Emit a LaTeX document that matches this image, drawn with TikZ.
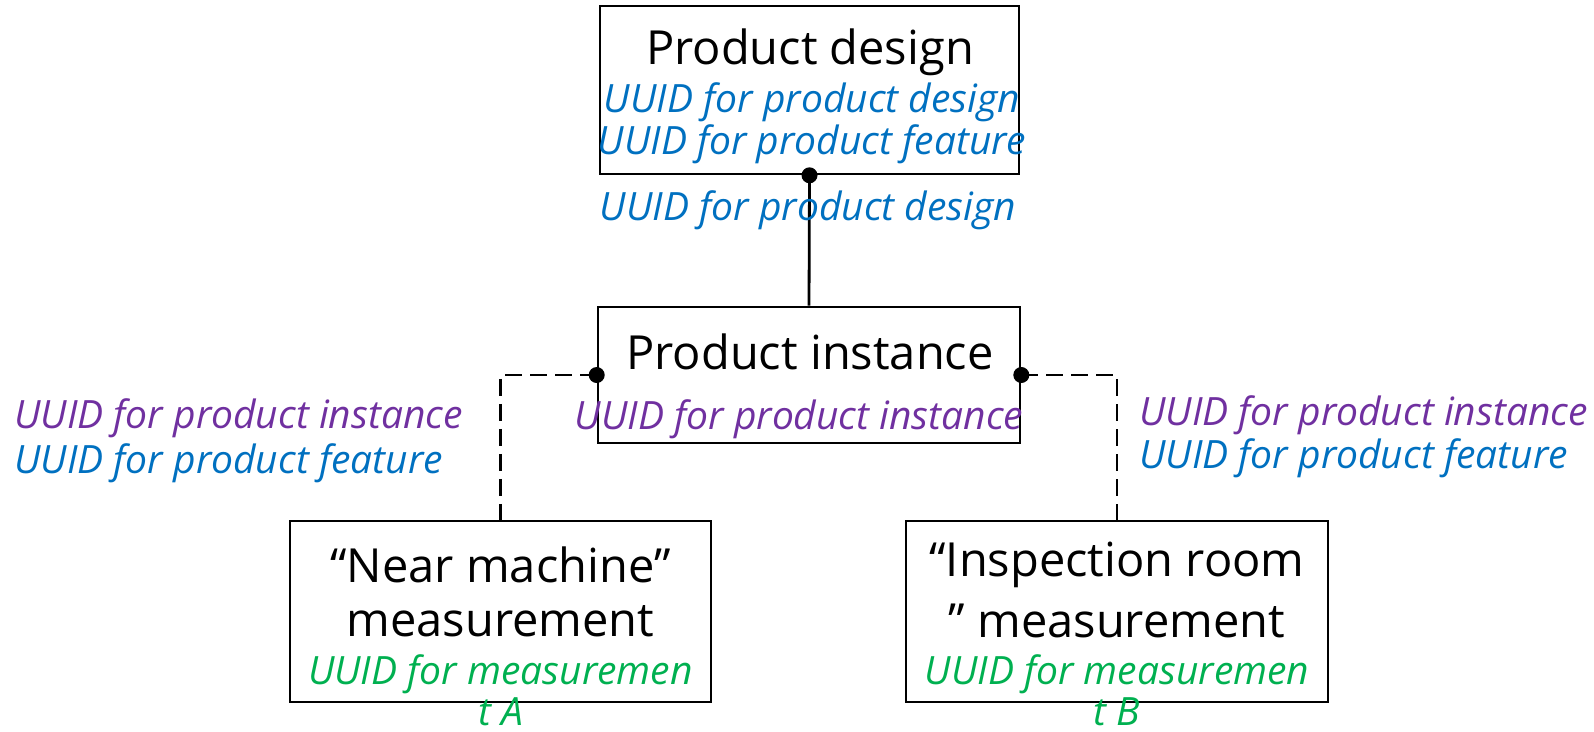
\documentclass[tikz,border=0pt]{standalone}
\usepackage{fontspec}
\setmainfont{Open Sans}
\usepackage{xcolor}
\definecolor{uuidblue}{HTML}{0070C0}
\definecolor{uuidpurple}{HTML}{7030A0}
\definecolor{uuidgreen}{HTML}{00B050}
\tikzset{
  box/.style={draw=black, line width=2.6pt, minimum width=#1, inner sep=0pt},
  title/.style={font=\fontsize{47}{56}\selectfont, inner sep=0pt, text=black},
  uuid/.style={font=\fontsize{39}{46}\selectfont\itshape, inner sep=0pt},
  link/.style={line width=2.8pt},
  dlink/.style={line width=2.6pt, dash pattern=on 17pt off 8pt},
  joint/.style={circle, fill=black, inner sep=0pt, minimum size=16pt}
}
\begin{document}
\begin{tikzpicture}[x=1pt,y=-1pt]
\useasboundingbox (0,0) rectangle (1594,731);

% boxes
\node[box=419pt, minimum height=168pt] (design) at (809.5,90) {};
\node[box=422pt, minimum height=136pt] (inst) at (809,375) {};
\node[box=421pt, minimum height=181pt] (nearm) at (500.5,611.5) {};
\node[box=422pt, minimum height=181pt] (roomm) at (1117,611.5) {};

% connectors
\draw[link] (design.south) -- (inst.north);
\draw[dlink] (inst.west) -| (nearm.north);
\draw[dlink] (inst.east) -| (roomm.north);
\node[joint] (jd) at (design.south) {};
\node[joint] (jl) at (inst.west) {};
\node[joint] (jr) at (inst.east) {};

% product design
\node[title] (tdesign) at (810,52) {Product design};
\node[uuid, text=uuidblue] (u1) at (812,102) {UUID for product design};
\node[uuid, text=uuidblue] (u2) at (812,144) {UUID for product feature};
\node[uuid, text=uuidblue] (u3) at (808,210) {UUID for product design};

% product instance
\node[title] (tinst) at (810,352) {Product instance};
\node[uuid, text=uuidpurple] (u4) at (799,419) {UUID for product instance};

% left link labels
\node[uuid, text=uuidpurple, anchor=west] (u5) at (14,418) {UUID for product instance};
\node[uuid, text=uuidblue, anchor=west] (u6) at (14,463) {UUID for product feature};

% right link labels
\node[uuid, text=uuidpurple, anchor=west] (u7) at (1139,415) {UUID for product instance};
\node[uuid, text=uuidblue, anchor=west] (u8) at (1139,458) {UUID for product feature};

% measurement boxes
\node[title] (tn1) at (500.5,565) {“Near machine”};
\node[title] (tn2) at (500.5,621) {measurement};
\node[uuid, text=uuidgreen] (un1) at (500.5,674) {UUID for measuremen};
\node[uuid, text=uuidgreen] (un2) at (500.5,712) {t A};

\node[title] (tr1) at (1117,565) {“Inspection room};
\node[title] (tr2) at (1117,621) {” measurement};
\node[uuid, text=uuidgreen] (ur1) at (1117,674) {UUID for measuremen};
\node[uuid, text=uuidgreen] (ur2) at (1117,712) {t B};
\end{tikzpicture}
\end{document}
